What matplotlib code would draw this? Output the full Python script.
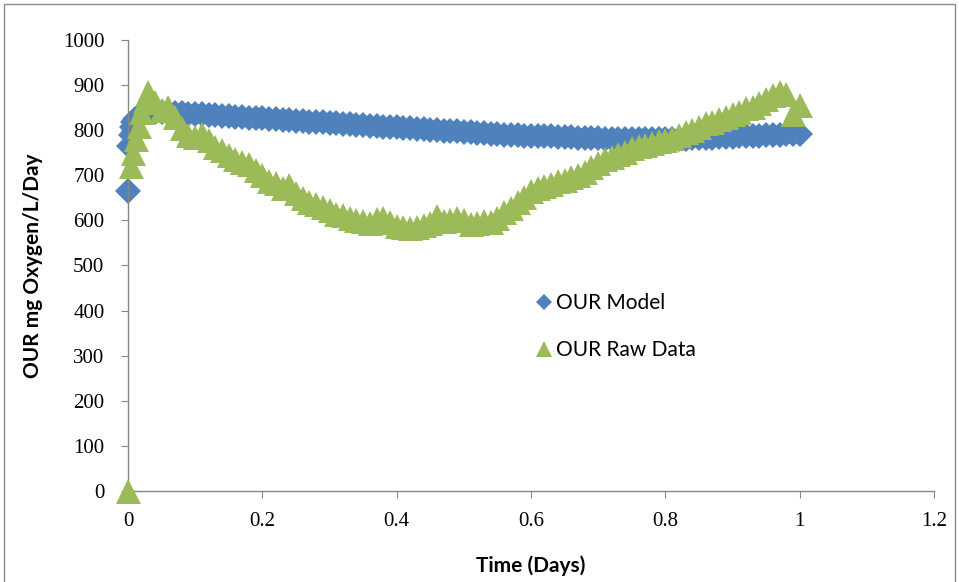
import numpy as np
import matplotlib.pyplot as plt
from matplotlib.patches import Rectangle

# OUR model (first few points logged at fine steps, then every 0.01 day)
t_model_start = [0.0, 0.002, 0.004, 0.006, 0.008]
model_start = [665, 765, 790, 808, 818]
model_main = [825, 836, 840, 841, 840, 839, 838, 837, 836, 836,
              835, 834, 833, 832, 831, 830, 829, 828, 827, 826,
              825, 824, 823, 822, 821, 820, 819, 818, 817, 816,
              815, 814, 813, 812, 811, 810, 809, 808, 807, 806,
              805, 804, 803, 802, 801, 800, 799, 798, 797, 796,
              795, 794, 793, 792, 791, 790, 790, 789, 788, 788,
              787, 786, 786, 785, 784, 784, 783, 783, 782, 782,
              781, 781, 781, 780, 780, 780, 780, 780, 780, 780,
              781, 781, 781, 782, 782, 783, 783, 784, 785, 785,
              786, 787, 787, 788, 789, 789, 790, 791, 791, 792]

# OUR raw data
t_raw_start = [0.0, 0.004, 0.008, 0.012, 0.016, 0.02, 0.025]
raw_start = [0, 720, 750, 780, 810, 840, 865]
raw_main = [885, 862, 845, 852, 830, 805, 790, 785, 792, 778,
            762, 755, 745, 735, 730, 725, 712, 700, 688, 682,
            672, 678, 660, 650, 640, 636, 630, 622, 615, 612,
            605, 600, 598, 595, 603, 605, 596, 588, 585, 582,
            585, 590, 595, 610, 598, 600, 605, 600, 592, 595,
            598, 596, 605, 618, 628, 640, 652, 665, 672, 676,
            680, 688, 690, 695, 700, 708, 718, 728, 735, 740,
            748, 752, 760, 765, 768, 772, 775, 778, 782, 790,
            795, 800, 808, 815, 818, 825, 830, 835, 840, 848,
            852, 860, 868, 878, 885, 880, 835, 855]

step = 0.01
t_model = np.concatenate([t_model_start, 0.01 + step * np.arange(len(model_main))])
our_model = np.concatenate([model_start, model_main])
t_raw = np.concatenate([t_raw_start, 0.03 + step * np.arange(len(raw_main))])
our_raw = np.concatenate([raw_start, raw_main])

xticks = [0, 0.2, 0.4, 0.6, 0.8, 1, 1.2]
xlabels = ['0', '0.2', '0.4', '0.6', '0.8', '1', '1.2']
yticks = list(range(0, 1001, 100))

fig = plt.figure(figsize=(9.59, 5.82), dpi=100)
ax = fig.add_axes([0.1335, 0.1564, 0.8405, 0.775])

ax.plot(t_model, our_model, linestyle='none', marker='D', markersize=13,
        color='#4F81BD', markeredgewidth=0, label='OUR Model', zorder=2,
        clip_on=False)
ax.plot(t_raw, our_raw, linestyle='none', marker='^', markersize=18,
        color='#9BBB59', markeredgewidth=0, label='OUR Raw Data', zorder=3,
        clip_on=False)

ax.set_xlim(0, 1.2)
ax.set_ylim(0, 1000)
ax.set_xticks(xticks)
ax.set_xticklabels(xlabels)
ax.set_yticks(yticks)

for s in ['top', 'right']:
    ax.spines[s].set_visible(False)
for s in ['left', 'bottom']:
    ax.spines[s].set_color('#868686')
    ax.spines[s].set_linewidth(1)

ax.tick_params(axis='both', direction='out', length=5, color='#868686',
               labelsize=15, labelcolor='black')
ax.tick_params(axis='y', pad=12)
ax.tick_params(axis='x', pad=10)
for lab in ax.get_xticklabels() + ax.get_yticklabels():
    lab.set_family('Liberation Serif')

ax.set_xlabel('Time (Days)', fontsize=15, fontweight='bold', family='Lato', labelpad=18)
ax.set_ylabel('OUR mg Oxygen/L/Day', fontsize=15, fontweight='bold', family='Lato', labelpad=14)

leg = ax.legend(loc='upper left', bbox_to_anchor=(0.48, 0.48), frameon=False,
                prop={'family': 'Lato', 'size': 15}, labelspacing=1.3,
                handletextpad=0.05, markerscale=0.65, handlelength=1)

fig.patches.append(Rectangle((0.004, -0.01), 0.992, 1.003, transform=fig.transFigure,
                             fill=False, edgecolor='#8c8c8c', linewidth=1))

fig.savefig('out.png', dpi=100)
